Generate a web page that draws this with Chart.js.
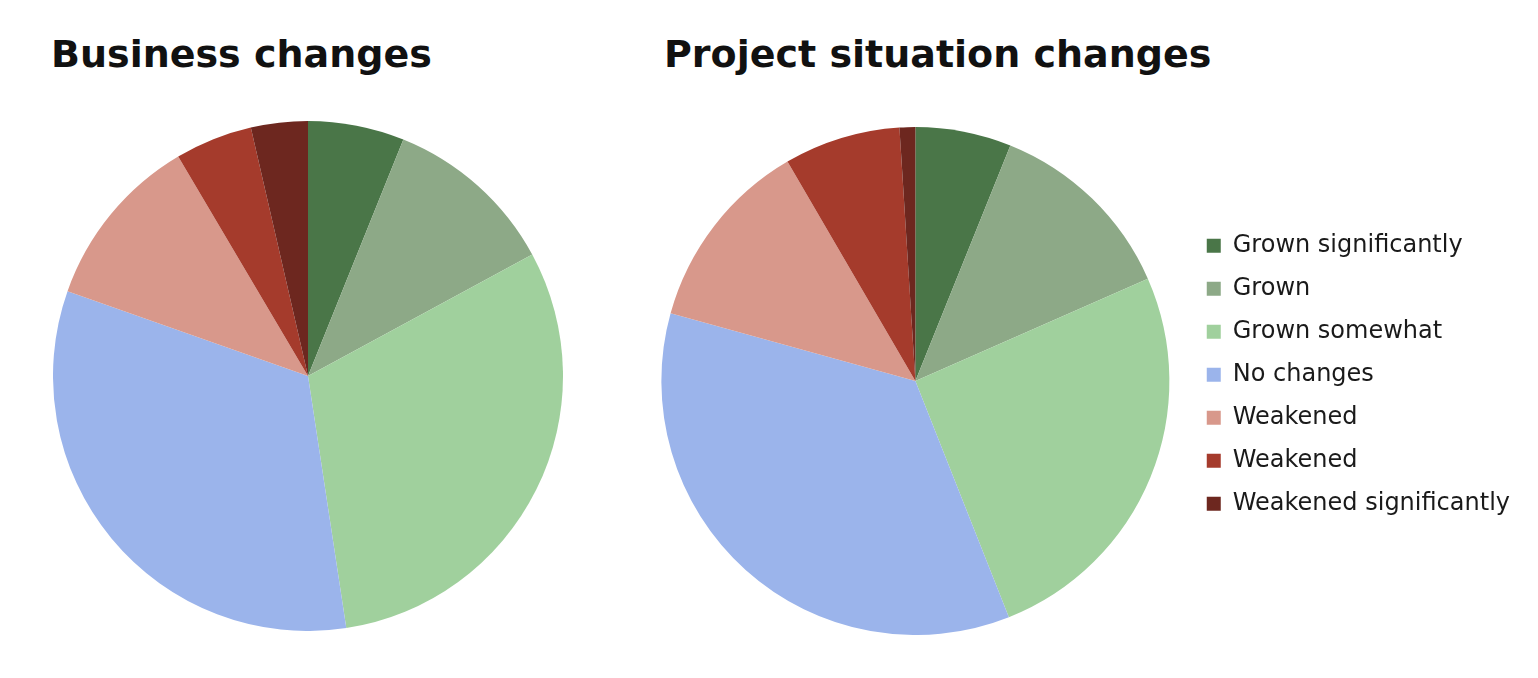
<!DOCTYPE html>
<html>
<head>
<meta charset="utf-8">
<script src="https://cdn.jsdelivr.net/npm/chart.js@4/dist/chart.umd.min.js"></script>
<style>
  body { margin: 0; background: #fff; width: 1538px; height: 678px; position: relative; overflow: hidden; }
  .title { position: absolute; font-family: "DejaVu Sans", sans-serif; font-weight: bold; font-size: 38px; line-height: 38px; color: #111; white-space: nowrap; }
  #title1 { left: 51px; top: 35px; }
  #title2 { left: 664px; top: 35px; }
  #box1 { position: absolute; left: 53px; top: 121px; width: 510px; height: 510px; }
  #box2 { position: absolute; left: 643px; top: 127px; width: 895px; height: 508px; }
</style>
</head>
<body>
<div class="title" id="title1">Business changes</div>
<div class="title" id="title2">Project situation changes</div>
<div id="box1"><canvas id="businessChart"></canvas></div>
<div id="box2"><canvas id="projectChart"></canvas></div>
<script>
// Categories (legend order)
const categories = ['Grown significantly', 'Grown', 'Grown somewhat', 'No changes', 'Weakened', 'Weakened', 'Weakened significantly'];

// Shares in percent
const businessValues = [6.1, 11.0, 30.5, 32.8, 11.1, 4.9, 3.6];
const projectValues = [6.1, 12.3, 25.6, 35.3, 12.3, 7.4, 1.0];

const sliceColors = ['#4a7648', '#8da987', '#a0d09d', '#9bb4eb', '#d8988b', '#a53b2c', '#6d271f'];

Chart.defaults.font.family = '"DejaVu Sans", sans-serif';
Chart.defaults.animation = false;

// Business changes pie (no legend)
function initializeBusinessChart() {
    const ctx = document.getElementById('businessChart').getContext('2d');
    new Chart(ctx, {
        type: 'pie',
        data: {
            labels: categories,
            datasets: [{
                data: businessValues,
                backgroundColor: sliceColors,
                borderWidth: 0
            }]
        },
        options: {
            responsive: true,
            maintainAspectRatio: false,
            layout: { padding: 0 },
            plugins: {
                legend: { display: false },
                tooltip: { enabled: false }
            }
        }
    });
}

// Project situation pie with the legend on the right
function initializeProjectChart() {
    const ctx = document.getElementById('projectChart').getContext('2d');
    new Chart(ctx, {
        type: 'pie',
        data: {
            labels: categories,
            datasets: [{
                data: projectValues,
                backgroundColor: sliceColors,
                borderWidth: 0
            }]
        },
        options: {
            responsive: true,
            maintainAspectRatio: false,
            layout: { padding: { left: 0, right: 18, top: 0, bottom: 0 } },
            plugins: {
                legend: {
                    position: 'right',
                    fullSize: false,
                    stackWeight: 0.975,
                    labels: {
                        boxWidth: 14,
                        boxHeight: 14,
                        padding: 19,
                        color: '#1a1a1a',
                        font: { size: 24 }
                    }
                },
                tooltip: { enabled: false }
            }
        }
    });
}

document.addEventListener('DOMContentLoaded', function() {
    initializeBusinessChart();
    initializeProjectChart();
});
</script>
</body>
</html>
